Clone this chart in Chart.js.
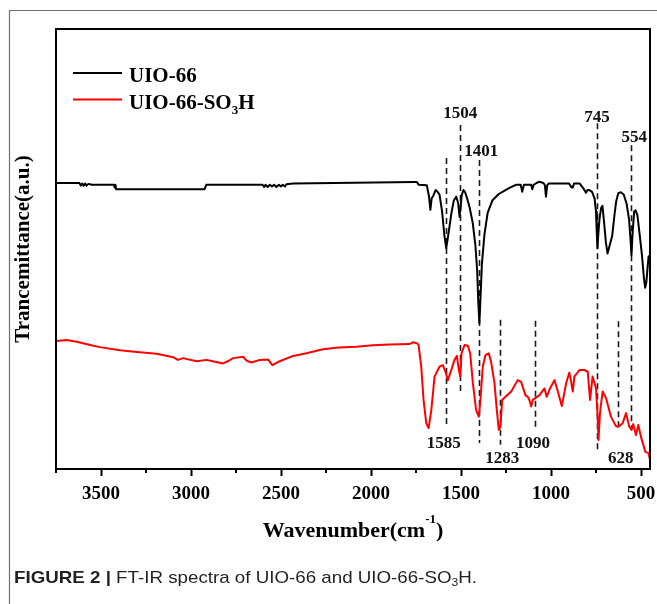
<!DOCTYPE html>
<html>
<head>
<meta charset="utf-8">
<title>FT-IR spectra of UIO-66 and UIO-66-SO3H</title>
<script src="https://cdn.jsdelivr.net/npm/chart.js@4.4.0/dist/chart.umd.min.js"></script>
<style>
  html, body { margin: 0; padding: 0; background: #fff; }
  #wrap { position: relative; width: 657px; height: 604px; overflow: hidden; }
  #c { position: absolute; left: 0; top: 0; }
  #caption {
    position: absolute; left: 14px; top: 568px;
    font-family: "Liberation Sans", Arial, Helvetica, sans-serif;
    font-size: 17px; line-height: 20px; color: #231f20;
    white-space: nowrap; transform-origin: 0 50%;
  }
  #caption sub { font-size: 11px; vertical-align: -3px; line-height: 0; }
</style>
</head>
<body>
<div id="wrap">
  <canvas id="c" width="657" height="604"></canvas>
  <div id="caption"><b>FIGURE 2 |</b> FT-IR spectra of UIO-66 and UIO-66-SO<sub>3</sub>H.</div>
</div>
<script>
// ---- UIO-66 spectrum (wavenumber in cm^-1, transmittance in a.u.) ----
const uioWavenumber = [
  3750, 3620, 3612, 3604, 3596, 3588, 3580, 3570, 3550, 3428, 3424, 3420, 3416, 2925, 2915,
  2602, 2594, 2586, 2574, 2562, 2550, 2538, 2526, 2512, 2500, 2490, 2478, 2470, 2432, 1760,
  1745, 1735, 1690, 1678, 1670, 1663, 1655, 1641, 1630, 1619, 1605, 1592, 1582, 1575, 1566,
  1553, 1540, 1527, 1516, 1508, 1502, 1496, 1486, 1478, 1466, 1453, 1435, 1420, 1410, 1404,
  1398, 1392, 1384, 1370, 1352, 1325, 1290, 1260, 1231, 1193, 1168, 1160, 1150, 1110, 1104,
  1096, 1081, 1064, 1042, 1034, 1028, 1021, 1012, 900, 886, 879, 872, 840, 830, 820,
  806, 797, 787, 772, 758, 750, 746, 742, 737, 731, 722, 714, 705, 695, 686,
  676, 660, 648, 638, 626, 612, 596, 580, 566, 558, 553, 547, 538, 530, 520,
  508, 494, 484, 477, 470, 464, 458, 452
];
const uioTransmittance = [
  65.0, 65.0, 64.4, 64.9, 64.4, 64.9, 64.4, 64.8, 64.6, 64.6, 64.0, 64.6, 63.6, 63.6, 64.6,
  64.6, 64.1, 64.6, 64.1, 64.6, 64.2, 64.6, 64.1, 64.6, 64.2, 64.6, 64.2, 64.7, 64.9, 65.2,
  65.2, 64.6, 64.5, 62.0, 58.9, 61.5, 62.0, 63.4, 63.0, 62.3, 58.5, 53.0, 50.2, 52.0, 54.5,
  58.2, 61.0, 61.9, 60.5, 57.3, 59.5, 62.3, 63.4, 63.0, 61.5, 59.6, 56.0, 50.8, 45.0, 38.0,
  33.2, 38.5, 46.5, 53.2, 58.2, 61.1, 62.5, 63.2, 63.9, 64.6, 64.6, 63.0, 64.6, 64.6, 63.6,
  64.6, 65.0, 65.3, 65.0, 64.5, 61.9, 64.5, 64.9, 64.9, 64.0, 64.0, 64.9, 64.9, 64.3, 63.8,
  62.8, 63.4, 63.4, 63.0, 61.5, 58.5, 54.0, 50.2, 53.5, 56.6, 59.3, 59.8, 56.0, 51.5, 49.0,
  50.5, 53.0, 57.5, 60.8, 62.7, 62.9, 62.4, 60.3, 56.6, 52.0, 48.6, 53.5, 58.5, 58.8, 57.7,
  53.5, 48.3, 43.5, 41.2, 42.5, 45.5, 48.3, 48.5
];

// ---- UIO-66-SO3H spectrum ----
const sulfoWavenumber = [
  3746, 3691, 3635, 3560, 3506, 3395, 3300, 3191, 3099, 3073, 3045, 2969, 2914, 2879, 2822,
  2790, 2766, 2711, 2690, 2664, 2618, 2572, 2548, 2507, 2433, 2359, 2267, 2180, 2081, 1990,
  1897, 1786, 1767, 1745, 1736, 1721, 1708, 1693, 1680, 1665, 1647, 1619, 1601, 1586, 1573,
  1554, 1536, 1523, 1512, 1504, 1497, 1480, 1462, 1449, 1434, 1416, 1401, 1392, 1379, 1364,
  1346, 1333, 1314, 1301, 1290, 1281, 1271, 1253, 1221, 1185, 1166, 1142, 1129, 1120, 1110,
  1101, 1064, 1036, 1024, 1009, 981, 962, 940, 916, 898, 888, 879, 870, 842, 815,
  796, 783, 769, 750, 741, 736, 729, 724, 713, 694, 667, 640, 630, 620, 602,
  583, 565, 552, 543, 528, 515, 500, 476, 458, 452
];
const sulfoTransmittance = [
  29.1, 29.3, 28.9, 28.2, 27.7, 27.0, 26.6, 26.2, 25.4, 24.8, 25.2, 24.5, 24.8, 24.5, 24.0,
  24.6, 25.2, 25.5, 24.6, 24.2, 24.8, 24.9, 23.6, 24.5, 25.7, 26.3, 27.2, 27.6, 27.8, 28.1,
  28.3, 28.4, 28.8, 28.6, 28.2, 23.3, 15.7, 10.4, 9.3, 13.4, 21.0, 23.3, 23.6, 22.1, 20.2,
  22.5, 24.8, 25.7, 22.5, 21.0, 26.3, 28.2, 28.0, 26.3, 19.5, 13.4, 11.9, 15.7, 23.3, 25.9,
  26.3, 24.4, 19.5, 13.4, 8.9, 9.6, 15.7, 16.4, 17.6, 20.2, 19.8, 16.8, 16.4, 15.7, 14.2,
  15.7, 16.8, 18.3, 16.4, 18.0, 20.2, 17.6, 14.3, 19.5, 21.9, 19.8, 17.6, 21.0, 22.5, 22.5,
  22.1, 15.7, 21.0, 18.4, 11.9, 6.6, 12.0, 14.2, 17.6, 16.1, 11.9, 9.8, 9.6, 9.8, 10.4,
  12.7, 9.6, 8.9, 10.2, 7.7, 10.0, 7.3, 3.9, 3.6, 2.4
];

// ---- assigned bands: dashed guide lines and their labels ----
const bandWavenumbers = [1585, 1504, 1401, 1283, 1090, 745, 628, 554];
const bandLineTop     = [70.7, 78.2, 70.2, 33.9, 33.7, 78.6, 33.6, 73.6];
const bandLineBottom  = [9.3, 16.8, 5.9, 5.5, 8.9, 4.3, 9.5, 8.9];
const bandLabelX      = [1596, 1504, 1388, 1271, 1100, 745, 612, 537];
const bandLabelY      = [4.7, 79.7, 71.1, 1.3, 4.7, 78.9, 1.4, 74.4];

// ---- x axis (reversed wavenumber scale) ----
const xMin = 450, xMax = 3750;
const xMajorTicks = [3500, 3000, 2500, 2000, 1500, 1000, 500];
const xMinorTicks = [3750, 3250, 2750, 2250, 1750, 1250, 750];

const SERIF = "'Liberation Serif', 'Times New Roman', Times, serif";

function toPoints(xs, ys) { return xs.map((x, i) => ({ x: x, y: ys[i] })); }
function isMajor(v) { return xMajorTicks.indexOf(Math.round(v)) !== -1; }

// Draws a run of text pieces (regular / subscript / superscript) in bold serif.
function drawRich(ctx, parts, x, y, align) {
  let total = 0;
  parts.forEach(p => {
    ctx.font = 'bold ' + p.size + 'px ' + SERIF;
    p.w = ctx.measureText(p.t).width;
    total += p.w;
  });
  let cx = align === 'center' ? x - total / 2 : x;
  ctx.textAlign = 'left';
  ctx.textBaseline = 'alphabetic';
  parts.forEach(p => {
    ctx.font = 'bold ' + p.size + 'px ' + SERIF;
    ctx.fillText(p.t, cx, y + (p.shift || 0));
    cx += p.w;
  });
}

// Chemical formula: a digit between "O" and "H" is written as a subscript.
function formulaParts(text, size) {
  const m = text.match(/^(.*O)(\d)(H.*)$/);
  if (!m) return [{ t: text, size: size }];
  return [{ t: m[1], size: size }, { t: m[2], size: 13, shift: 5 }, { t: m[3], size: size }];
}

const spectrumDecor = {
  id: 'spectrumDecor',
  beforeDraw(chart) {
    const ctx = chart.ctx;
    ctx.save();
    ctx.fillStyle = '#fff';
    ctx.fillRect(0, 0, chart.width, chart.height);
    // page frame around the figure
    ctx.strokeStyle = '#707070';
    ctx.lineWidth = 1.2;
    ctx.beginPath();
    ctx.moveTo(9.5, chart.height);
    ctx.lineTo(9.5, 10.5);
    ctx.lineTo(chart.width, 10.5);
    ctx.stroke();
    ctx.restore();
  },
  beforeDatasetsDraw(chart) {
    const ctx = chart.ctx, xs = chart.scales.x, ys = chart.scales.y;
    ctx.save();
    ctx.strokeStyle = '#1a1a1a';
    ctx.lineWidth = 1.6;
    ctx.setLineDash([6, 4]);
    bandWavenumbers.forEach((wn, i) => {
      const px = Math.round(xs.getPixelForValue(wn)) + 0.5;
      ctx.beginPath();
      ctx.moveTo(px, ys.getPixelForValue(bandLineTop[i]));
      ctx.lineTo(px, ys.getPixelForValue(bandLineBottom[i]));
      ctx.stroke();
    });
    ctx.restore();
  },
  afterDatasetsDraw(chart) {
    const ctx = chart.ctx, a = chart.chartArea, xs = chart.scales.x, ys = chart.scales.y;
    ctx.save();
    // axes box
    ctx.strokeStyle = '#000';
    ctx.lineWidth = 2;
    ctx.setLineDash([]);
    ctx.strokeRect(a.left, a.top, a.right - a.left, a.bottom - a.top);
    // minor ticks
    xMinorTicks.forEach(v => {
      const px = xs.getPixelForValue(v);
      ctx.beginPath();
      ctx.moveTo(px, a.bottom);
      ctx.lineTo(px, a.bottom + 4);
      ctx.stroke();
    });
    // band labels
    ctx.fillStyle = '#111';
    bandWavenumbers.forEach((wn, i) => {
      drawRich(ctx, [{ t: String(wn), size: 17 }],
        xs.getPixelForValue(bandLabelX[i]), ys.getPixelForValue(bandLabelY[i]), 'center');
    });
    // legend
    chart.data.datasets.forEach((ds, i) => {
      const base = a.top + 53 + i * 26.6;
      ctx.strokeStyle = ds.borderColor;
      ctx.lineWidth = 2;
      ctx.beginPath();
      ctx.moveTo(a.left + 17, base - 9);
      ctx.lineTo(a.left + 66, base - 9);
      ctx.stroke();
      ctx.fillStyle = '#000';
      drawRich(ctx, formulaParts(ds.label, 21), a.left + 73, base, 'left');
    });
    // x-axis title with superscript
    ctx.fillStyle = '#000';
    drawRich(ctx, [
      { t: 'Wavenumber(cm', size: 22 },
      { t: '-1', size: 13, shift: -14 },
      { t: ')', size: 22 }
    ], (a.left + a.right) / 2, 537, 'center');
    ctx.restore();
  }
};

new Chart(document.getElementById('c'), {
  type: 'line',
  data: {
    datasets: [
      {
        label: 'UIO-66',
        data: toPoints(uioWavenumber, uioTransmittance),
        borderColor: '#000000',
        borderWidth: 2,
        pointRadius: 0,
        tension: 0,
        borderJoinStyle: 'round'
      },
      {
        label: 'UIO-66-SO3H',
        data: toPoints(sulfoWavenumber, sulfoTransmittance),
        borderColor: '#ff0000',
        borderWidth: 2,
        pointRadius: 0,
        tension: 0,
        borderJoinStyle: 'round'
      }
    ]
  },
  options: {
    responsive: false,
    devicePixelRatio: 1,
    animation: false,
    layout: { padding: { left: 0, top: 29, right: 7, bottom: 0 } },
    plugins: { legend: { display: false }, tooltip: { enabled: false } },
    scales: {
      x: {
        type: 'linear',
        reverse: true,
        min: xMin,
        max: xMax,
        afterBuildTicks(s) {
          s.ticks = xMajorTicks.map(v => ({ value: v }));
        },
        afterFit(s) {
          s.height = 135;
          s.paddingLeft = 0;
          s.paddingRight = 0;
        },
        border: { display: false },
        grid: {
          display: true,
          drawOnChartArea: false,
          drawTicks: true,
          tickLength: 7,
          tickWidth: 2,
          tickColor: '#000'
        },
        ticks: {
          autoSkip: false,
          maxRotation: 0,
          padding: 7,
          color: '#000',
          font: { family: SERIF, size: 19, weight: 'bold' },
          callback: v => (isMajor(v) ? String(Math.round(v)) : '')
        }
      },
      y: {
        min: 0,
        max: 100,
        afterFit(s) { s.width = 56; },
        border: { display: false },
        grid: { display: false },
        ticks: { display: false },
        title: {
          display: true,
          text: 'Trancemittance(a.u.)',
          color: '#000',
          font: { family: SERIF, size: 21, weight: 'bold' },
          padding: { top: 11, bottom: 0 }
        }
      }
    }
  },
  plugins: [spectrumDecor]
});

// fit the caption line to its column width
(function () {
  const cap = document.getElementById('caption');
  const w = cap.getBoundingClientRect().width;
  const target = 463;
  if (w > 0) cap.style.transform = 'scaleX(' + (target / w).toFixed(4) + ')';
})();
</script>
</body>
</html>
